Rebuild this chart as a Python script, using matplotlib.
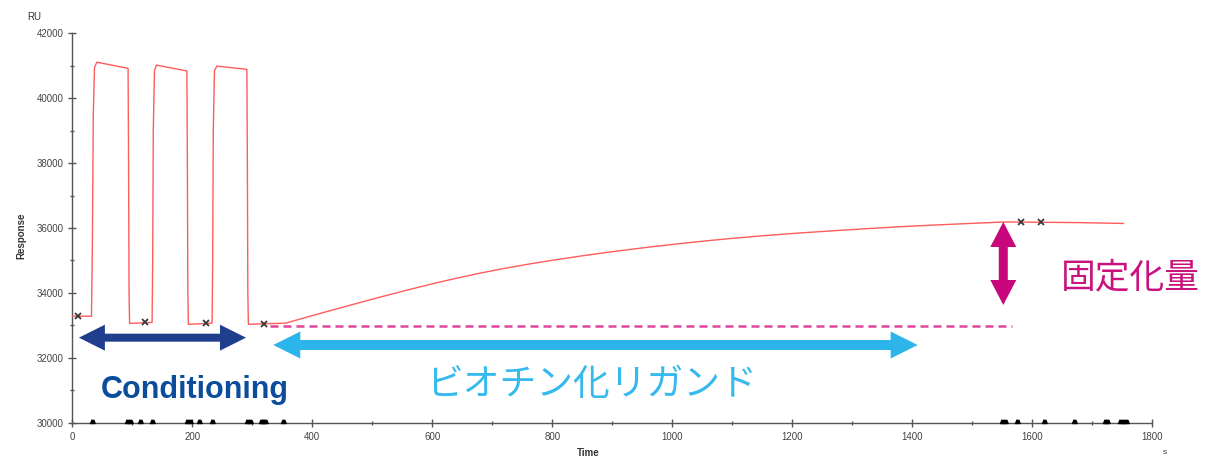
import matplotlib
matplotlib.use("Agg")
import matplotlib.pyplot as plt
from matplotlib.patches import Polygon
from matplotlib.transforms import IdentityTransform
from matplotlib.ticker import MultipleLocator

# Sensorgram: three conditioning pulses followed by biotinylated ligand capture
time_s = [0, 32, 33.5, 35, 37, 41, 93, 93.8, 94.6, 95.5,
          133, 134, 135, 137, 140, 191, 191.8, 192.6, 193.5,
          233, 234, 235, 237, 241, 291, 291.8, 292.6, 293.5,
          320, 355, 400, 450, 513, 560, 600, 640, 680, 720, 760, 800,
          847, 890, 930, 970, 1013, 1060, 1100, 1150, 1200, 1268, 1320,
          1380, 1435, 1490, 1547, 1560, 1600, 1680, 1752]
response_ru = [33280, 33280, 35500, 39500, 40950, 41110, 40920, 38000, 34000, 33060,
               33090, 35000, 39000, 40850, 41020, 40840, 38000, 34000, 33030,
               33070, 35000, 39000, 40850, 40990, 40890, 38000, 34000, 33030,
               33050, 33065, 33300, 33555, 33870, 34095, 34280, 34450, 34610, 34755, 34885, 35005,
               35135, 35245, 35340, 35430, 35520, 35610, 35680, 35760, 35830, 35915, 35975,
               36040, 36090, 36135, 36180, 36185, 36180, 36165, 36140]

# Injection marks on the trace
mark_time_s = [9, 122, 223, 320, 1581, 1614]
mark_ru = [33280, 33100, 33070, 33050, 36180, 36175]

# Event flags along the time axis
event_time_s = [33, 91, 96, 113, 133, 192, 197, 212, 233, 291, 297, 314, 318, 322, 352,
                1550, 1555, 1574, 1619, 1669, 1721, 1725, 1746, 1751, 1756]

# Baseline before ligand capture
baseline_ru = 32980
baseline_span_s = (329, 1566)

x_ticks = list(range(0, 1801, 200))
y_ticks = list(range(30000, 42001, 2000))

fig = plt.figure(figsize=(12.17, 4.57), dpi=100)
ax = fig.add_axes([0.0594, 0.0751, 0.8874, 0.852])
ax.set_xlim(0, 1800)
ax.set_ylim(30000, 42000)

for side in ("top", "right"):
    ax.spines[side].set_visible(False)
for side in ("left", "bottom"):
    ax.spines[side].set_color("#555555")
    ax.spines[side].set_linewidth(1.0)

ax.set_xticks(x_ticks)
ax.set_yticks(y_ticks)
ax.xaxis.set_minor_locator(MultipleLocator(100))
ax.yaxis.set_minor_locator(MultipleLocator(1000))
ax.tick_params(which="major", direction="inout", length=6, width=1, color="#555555",
               labelsize=7, labelcolor="#444444", pad=3.5)
ax.tick_params(which="minor", direction="inout", length=3, width=1, color="#555555")
for lab in ax.get_xticklabels() + ax.get_yticklabels():
    lab.set_fontfamily("Liberation Sans")

# Trace
ax.plot(time_s, response_ru, color="#ff5c5c", lw=1.0, zorder=3)
ax.plot(mark_time_s, mark_ru, linestyle="none", marker="x", ms=5, mew=1.3,
        color="#3a3a3a", zorder=4)

# Event flags sitting on the axis
flag = [(-1, 0), (1, 0), (0.55, 1.2), (-0.55, 1.2)]
ax.plot(event_time_s, [30000] * len(event_time_s), linestyle="none", marker=flag,
        ms=4.5, color="black", clip_on=False, zorder=5)

# Baseline reference
ax.plot(baseline_span_s, [baseline_ru, baseline_ru], color="#e0449c", lw=1.8,
        dashes=(3.2, 2.0), zorder=2)


def double_arrow(p0, p1, body, head_w, head_len, color):
    """Filled double-headed arrow between two data points, sizes in pixels."""
    (x0, y0), (x1, y1) = ax.transData.transform([p0, p1])
    dx, dy = x1 - x0, y1 - y0
    length = (dx ** 2 + dy ** 2) ** 0.5
    ux, uy = dx / length, dy / length
    nx, ny = -uy, ux

    def pt(s, n):
        return (x0 + ux * s + nx * n, y0 + uy * s + ny * n)

    verts = [pt(0, 0), pt(head_len, head_w / 2), pt(head_len, body / 2),
             pt(length - head_len, body / 2), pt(length - head_len, head_w / 2),
             pt(length, 0), pt(length - head_len, -head_w / 2),
             pt(length - head_len, -body / 2), pt(head_len, -body / 2),
             pt(head_len, -head_w / 2)]
    poly = Polygon(verts, closed=True, transform=IdentityTransform(),
                   facecolor=color, edgecolor="none", clip_on=False, zorder=6)
    ax.add_patch(poly)


double_arrow((11, 32620), (289.5, 32620), 8, 26, 26, "#1f3f8e")
double_arrow((335, 32394), (1409, 32394), 10, 27, 27, "#2cb5ea")
double_arrow((1551.7, 36185), (1551.7, 33627), 9, 26, 25, "#c9077c")

# Annotations
fig.text(195 / 1217, 1 - 390 / 457, "Conditioning", fontsize=22, fontweight="bold",
         family="Liberation Sans", color="#0b4c9c", ha="center", va="center")
fig.text(592 / 1217, 1 - 385 / 457, "ビオチン化リガンド", fontsize=26.5,
         family=["Noto Sans CJK JP", "DejaVu Sans"], color="#36b9ed",
         ha="center", va="center")
fig.text(1130 / 1217, 1 - 278 / 457, "固定化量", fontsize=25,
         family=["Noto Sans CJK JP", "DejaVu Sans"], color="#c8127e",
         ha="center", va="center")

# Axis labels
fig.text(34.5 / 1217, 1 - 17 / 457, "RU", fontsize=7, family="Liberation Sans",
         color="#333333", ha="center", va="center")
fig.text(21 / 1217, 1 - 236 / 457, "Response", fontsize=7, fontweight="bold",
         family="Liberation Sans", color="#333333", rotation=90,
         ha="center", va="center")
fig.text(588 / 1217, 1 - 448 / 457, "Time", fontsize=7, fontweight="bold",
         family="Liberation Sans", color="#333333", ha="center", va="top")
fig.text(1165 / 1217, 1 - 452 / 457, "s", fontsize=6, family="Liberation Sans",
         color="#333333", ha="center", va="center")

fig.savefig("out.png", dpi=100, facecolor="white")
